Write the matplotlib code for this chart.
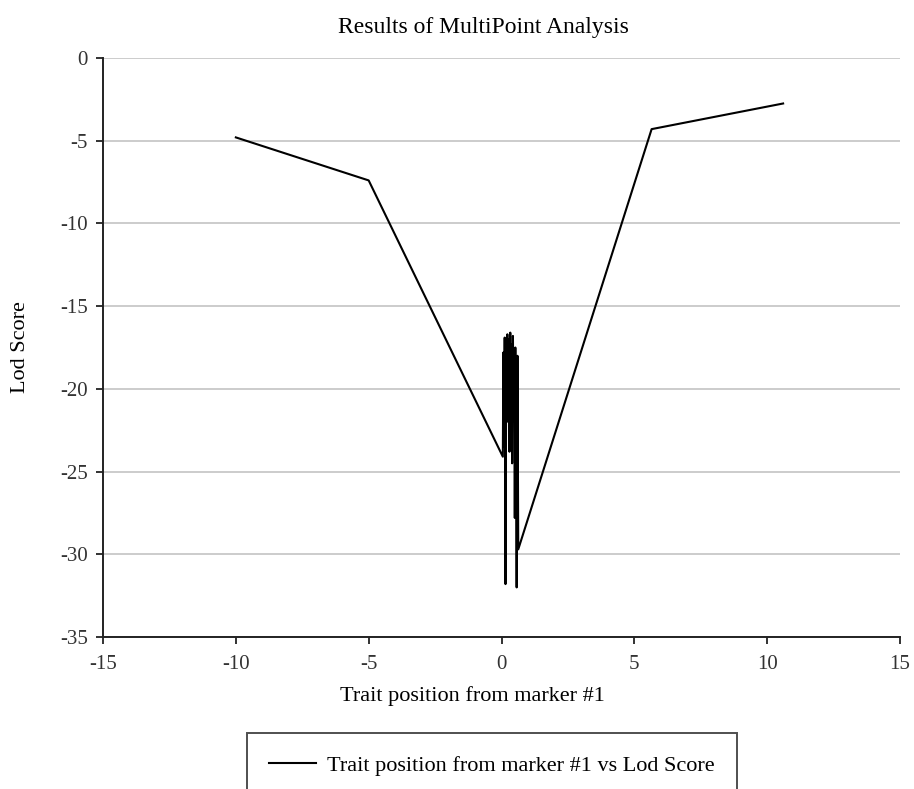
import matplotlib
matplotlib.use("Agg")
import matplotlib.pyplot as plt

# trait position vs lod score
traitPos = [-10, -5, 0.05, 0.07, 0.1, 0.12, 0.15, 0.18, 0.2, 0.22, 0.25, 0.27,
            0.3, 0.33, 0.35, 0.38, 0.4, 0.43, 0.45, 0.48, 0.5, 0.52, 0.55, 0.57,
            0.6, 0.63, 5.65, 10.6]
lodScore = [-4.8, -7.4, -24.1, -17.8, -23.5, -16.9, -31.8, -17.2, -22.0, -16.7,
            -21.6, -17.0, -23.8, -16.6, -22.5, -17.3, -24.5, -16.8, -21.0, -17.9,
            -27.8, -17.5, -24.0, -32.0, -18.0, -29.7, -4.3, -2.75]

xTicks = [-15, -10, -5, 0, 5, 10, 15]
yTicks = [0, -5, -10, -15, -20, -25, -30, -35]

plt.rcParams["font.family"] = ["Liberation Serif", "DejaVu Serif"]
plt.rcParams["axes.unicode_minus"] = False

fig = plt.figure(figsize=(9.14, 7.89), dpi=100)
ax = fig.add_axes([0.1127, 0.1926, 0.872, 0.7339])

ax.plot(traitPos, lodScore, c="black", lw=1.5,
        label="Trait position from marker #1 vs Lod Score")

ax.set_xlim(-15, 15)
ax.set_ylim(-35, 0)
ax.set_xticks(xTicks)
ax.set_yticks(yTicks)
ax.yaxis.grid(True, color="#c8c8c8", lw=1.3)
ax.set_axisbelow(True)

for s in ["top", "right"]:
    ax.spines[s].set_visible(False)
for s in ["left", "bottom"]:
    ax.spines[s].set_color("#222222")
    ax.spines[s].set_linewidth(1.4)

ax.tick_params(axis="both", labelsize=15, length=5, width=1.3,
               color="#222222", labelcolor="#333333")
ax.tick_params(axis="x", pad=8)
ax.tick_params(axis="y", pad=6)

ax.set_xlabel("Trait position from marker #1", fontsize=16)
ax.xaxis.set_label_coords(0.463, -0.085)
ax.set_ylabel("Lod Score", fontsize=16)
ax.yaxis.set_label_coords(-0.092, 0.5)
ax.set_title("Results of MultiPoint Analysis", fontsize=17, x=0.477, pad=18)

leg = fig.legend(loc="upper center", bbox_to_anchor=(0.538, 0.071),
                 fontsize=16, frameon=True, fancybox=False, borderaxespad=0,
                 handlelength=2.1, handletextpad=0.5, borderpad=1.0,
                 edgecolor="#222222")
leg.get_frame().set_linewidth(1.4)

fig.savefig("out.png", dpi=100)
